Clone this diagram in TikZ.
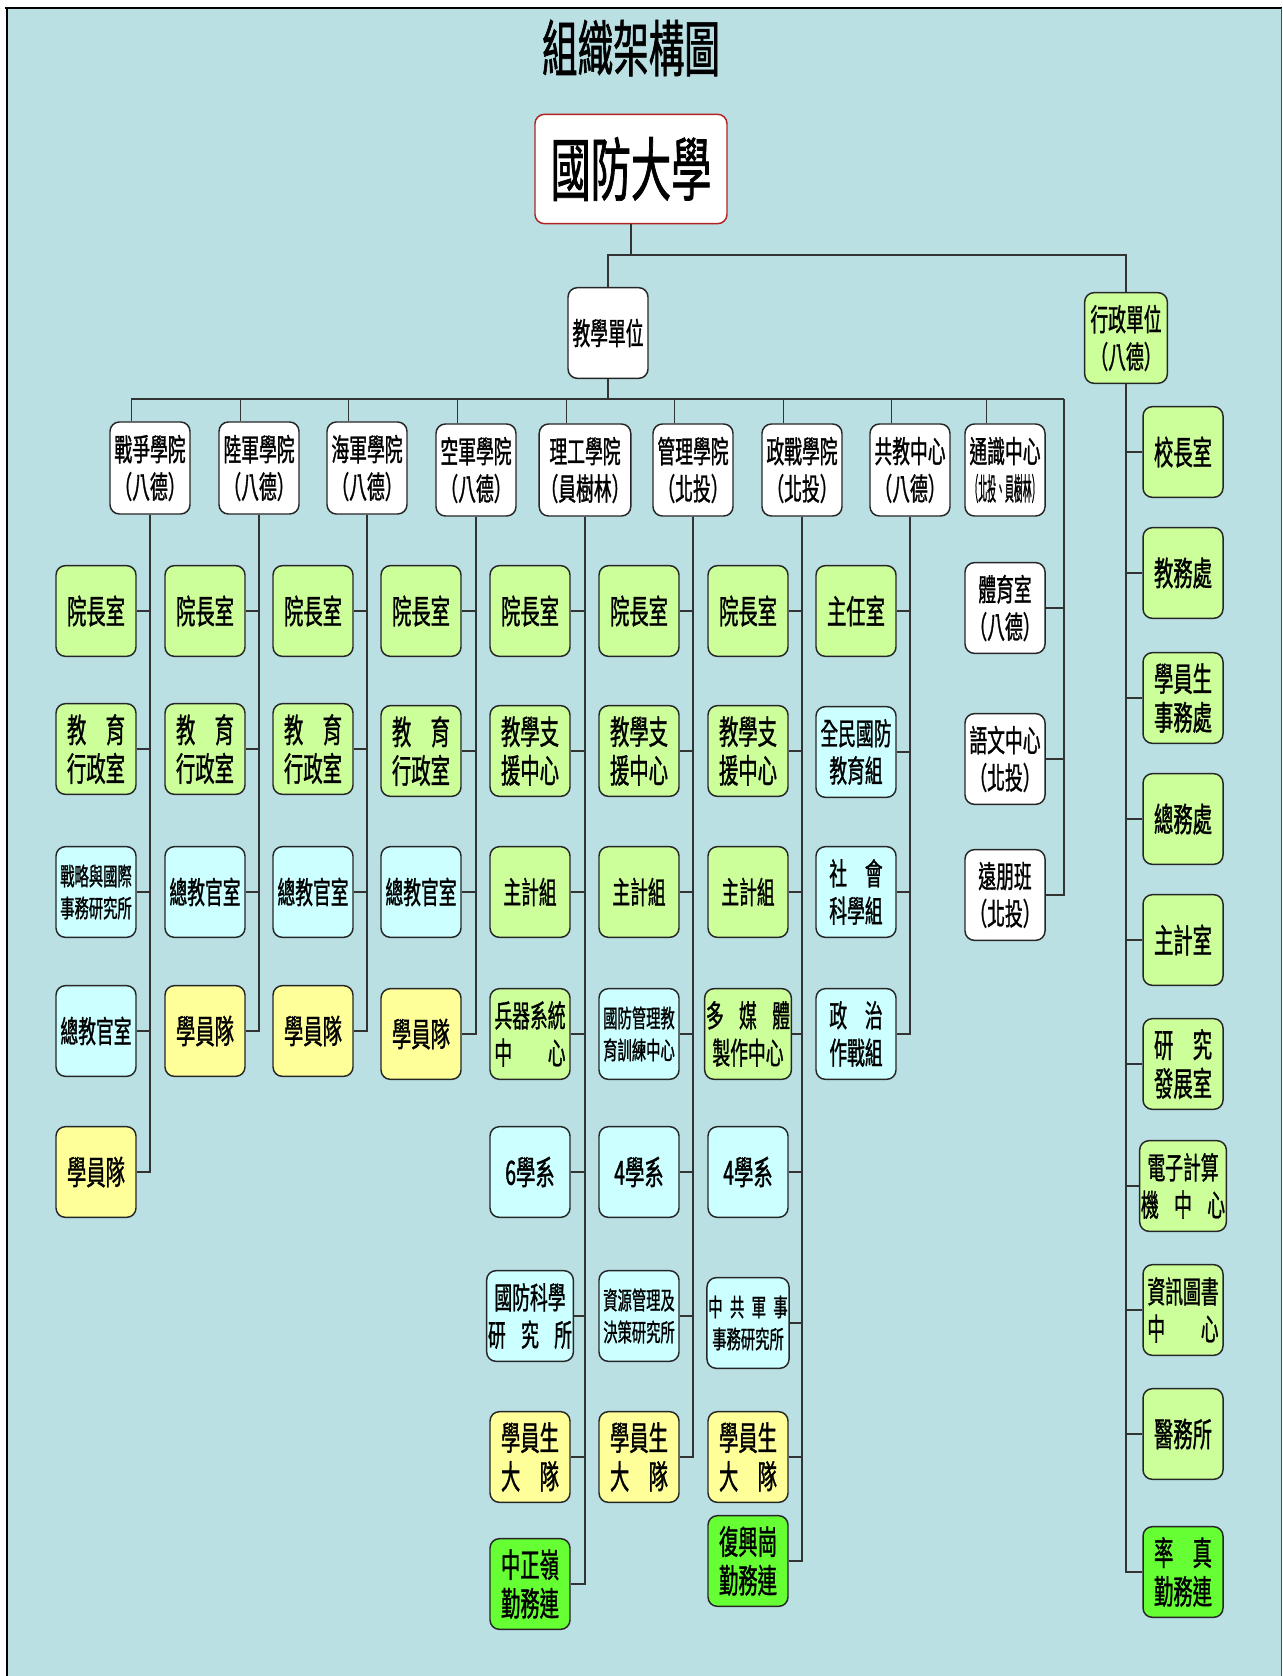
\documentclass[tikz,border=0pt]{standalone}
\usepackage{fontspec}
\usepackage{graphicx}
\newfontfamily\cjk[FakeStretch=0.58, FakeBold=1]{Noto Sans CJK TC}
\usetikzlibrary{positioning, calc}
\definecolor{bgblue}{HTML}{BBE0E3}
\definecolor{boxgreen}{HTML}{CCFF99}
\definecolor{boxcyan}{HTML}{CCFFFF}
\definecolor{boxyellow}{HTML}{FFFF99}
\definecolor{boxlime}{HTML}{66FF33}
\definecolor{rootred}{HTML}{B22222}

\begin{document}
\begin{tikzpicture}[x=0.75pt, y=-0.75pt,
    unit/.style={draw=black!85, line width=1.1pt, rounded corners=7pt, align=center,
        minimum width=60pt, minimum height=68pt, inner sep=1pt,
        font=\cjk\fontsize{25}{29}\selectfont},
    midtext/.style={font=\cjk\fontsize{23}{28}\selectfont},
    smalltext/.style={font=\cjk\fontsize{18.5}{24}\selectfont},
    wbox/.style={unit, fill=white},
    gbox/.style={unit, fill=boxgreen},
    cbox/.style={unit, fill=boxcyan},
    ybox/.style={unit, fill=boxyellow},
    lbox/.style={unit, fill=boxlime},
    college/.style={wbox, midtext, minimum height=69pt},
    link/.style={draw=black!80, line width=0.8pt}]
    \useasboundingbox (0,0) rectangle (1282,1676);
    % frame
    \fill[bgblue] (7,8) rectangle (1282,1676);
    \draw[line width=2.2pt] (5,8) -- (1282,8);
    \draw[line width=1.6pt] (7,7) -- (7,1676);
    \draw[line width=0.6pt, black!70] (1281,8) -- (1281,1676);

    \node[font=\cjk\fontsize{46}{52}\selectfont] (title) at (631,48) {組織架構圖};
    \node[wbox, draw=rootred, minimum width=144pt, minimum height=82pt,
          font=\cjk\fontsize{52}{58}\selectfont] (root) at (631,169) {國防大學};
    \node[wbox, midtext] (teach) at (608,333) {教學單位};
    \node[gbox, midtext, minimum width=62pt] (admin) at (1126,338) {行政單位\\（八德）};

    % colleges
    \node[college] (war) at (150,468) {戰爭學院\\（八德）};
    \node[college] (army) at (259,468) {陸軍學院\\（八德）};
    \node[college] (navy) at (367,468) {海軍學院\\（八德）};
    \node[college] (air) at (476,470) {空軍學院\\（八德）};
    \node[college] (tech) at (585,470) {理工學院\\（員樹林）};
    \node[college] (mgmt) at (693,470) {管理學院\\（北投）};
    \node[college] (polwar) at (802,470) {政戰學院\\（北投）};
    \node[college] (gened) at (910,470) {共教中心\\（八德）};
    \node[college] (liberal) at (1005,470) {通識中心\\\scalebox{0.5}[1]{（北投、員樹林）}};

    % 戰爭學院
    \node[gbox] (war1) at (96,611) {院長室};
    \node[gbox] (war2) at (96,749) {教　育\\行政室};
    \node[cbox, smalltext] (war3) at (96,892) {戰略與國際\\事務研究所};
    \node[cbox, midtext] (war4) at (96,1031) {總教官室};
    \node[ybox] (war5) at (96,1172) {學員隊};
    % 陸軍學院
    \node[gbox] (army1) at (205,611) {院長室};
    \node[gbox] (army2) at (205,749) {教　育\\行政室};
    \node[cbox, midtext] (army3) at (205,892) {總教官室};
    \node[ybox] (army4) at (205,1031) {學員隊};
    % 海軍學院
    \node[gbox] (navy1) at (313,611) {院長室};
    \node[gbox] (navy2) at (313,749) {教　育\\行政室};
    \node[cbox, midtext] (navy3) at (313,892) {總教官室};
    \node[ybox] (navy4) at (313,1031) {學員隊};
    % 空軍學院
    \node[gbox] (air1) at (421,611) {院長室};
    \node[gbox] (air2) at (421,751) {教　育\\行政室};
    \node[cbox, midtext] (air3) at (421,892) {總教官室};
    \node[ybox] (air4) at (421,1034) {學員隊};
    % 理工學院
    \node[gbox] (tech1) at (530,611) {院長室};
    \node[gbox] (tech2) at (530,751) {教學支\\援中心};
    \node[gbox, midtext] (tech3) at (530,892) {主計組};
    \node[gbox, midtext] (tech4) at (530,1034) {兵器系統\\中　　心};
    \node[cbox] (tech5) at (530,1172) {6學系};
    \node[cbox, midtext] (tech6) at (530,1316) {國防科學\\研\hspace{.5em}究\hspace{.5em}所};
    \node[ybox] (tech7) at (530,1457) {學員生\\大　隊};
    \node[lbox] (tech8) at (530,1584) {中正嶺\\勤務連};
    % 管理學院
    \node[gbox] (mgmt1) at (639,611) {院長室};
    \node[gbox] (mgmt2) at (639,751) {教學支\\援中心};
    \node[gbox, midtext] (mgmt3) at (639,892) {主計組};
    \node[cbox, smalltext] (mgmt4) at (639,1034) {國防管理教\\育訓練中心};
    \node[cbox] (mgmt5) at (639,1172) {4學系};
    \node[cbox, smalltext] (mgmt6) at (639,1316) {資源管理及\\決策研究所};
    \node[ybox] (mgmt7) at (639,1457) {學員生\\大　隊};
    % 政戰學院
    \node[gbox] (polwar1) at (748,611) {院長室};
    \node[gbox] (polwar2) at (748,751) {教學支\\援中心};
    \node[gbox, midtext] (polwar3) at (748,892) {主計組};
    \node[gbox, midtext] (polwar4) at (748,1034) {多\hspace{.5em}媒\hspace{.5em}體\\製作中心};
    \node[cbox] (polwar5) at (748,1172) {4學系};
    \node[cbox, smalltext] (polwar6) at (748,1323) {中\hspace{.3em}共\hspace{.3em}軍\hspace{.3em}事\\事務研究所};
    \node[ybox] (polwar7) at (748,1457) {學員生\\大　隊};
    \node[lbox] (polwar8) at (748,1561) {復興崗\\勤務連};
    % 共教中心
    \node[gbox] (gened1) at (856,611) {主任室};
    \node[cbox, midtext] (gened2) at (856,752) {全民國防\\教育組};
    \node[cbox, midtext] (gened3) at (856,892) {社　會\\科學組};
    \node[cbox, midtext] (gened4) at (856,1034) {政　治\\作戰組};
    % 通識中心
    \node[wbox, midtext] (liberal1) at (1005,608) {體育室\\（八德）};
    \node[wbox, midtext] (liberal2) at (1005,759) {語文中心\\（北投）};
    \node[wbox, midtext] (liberal3) at (1005,895) {遠朋班\\（北投）};
    % 行政單位
    \node[gbox] (admin1) at (1183,452) {校長室};
    \node[gbox] (admin2) at (1183,573) {教務處};
    \node[gbox] (admin3) at (1183,698) {學員生\\事務處};
    \node[gbox] (admin4) at (1183,819) {總務處};
    \node[gbox] (admin5) at (1183,940) {主計室};
    \node[gbox] (admin6) at (1183,1064) {研　究\\發展室};
    \node[gbox, midtext] (admin7) at (1183,1186) {電子計算\\機\hspace{.5em}中\hspace{.5em}心};
    \node[gbox, midtext] (admin8) at (1183,1310) {資訊圖書\\中　　心};
    \node[gbox] (admin9) at (1183,1434) {醫務所};
    \node[lbox] (admin10) at (1183,1572) {率　真\\勤務連};

    % connectors
    \coordinate (split) at (631,255);
    \coordinate (bar) at (608,399);
    \coordinate (libtop) at (1064,399);
    \draw[link] (root.south) -- (split);
    \draw[link, line width=1.3pt] (split) -| (teach.north);
    \draw[link, line width=1.3pt] (split) -| (admin.north);
    \draw[link] (teach.south) -- (bar);
    \draw[link, line width=1.6pt] ([xshift=-14pt]war.north |- bar) -- ([xshift=-14pt]liberal.north |- bar);
    \draw[link] (bar) -- (libtop);
    \foreach \c in {war,army,navy,air,tech,mgmt,polwar,gened,liberal}
        \draw[link] (bar) -| ([xshift=-14pt]\c.north);
    \foreach \k in {1,...,5}
        \draw[link] (war.south) |- (war\k.east);
    \foreach \c in {army,navy,air,gened}
        \foreach \k in {1,...,4}
            \draw[link] (\c.south) |- (\c\k.east);
    \foreach \k in {1,...,8}
        \draw[link] (tech.south) |- (tech\k.east);
    \foreach \k in {1,...,7}
        \draw[link] (mgmt.south) |- (mgmt\k.east);
    \foreach \k in {1,...,8}
        \draw[link] (polwar.south) |- (polwar\k.east);
    \foreach \k in {1,2,3}
        \draw[link] (libtop) |- (liberal\k.east);
    \foreach \k in {1,...,10}
        \draw[link] (admin.south) |- (admin\k.west);
\end{tikzpicture}
\end{document}
